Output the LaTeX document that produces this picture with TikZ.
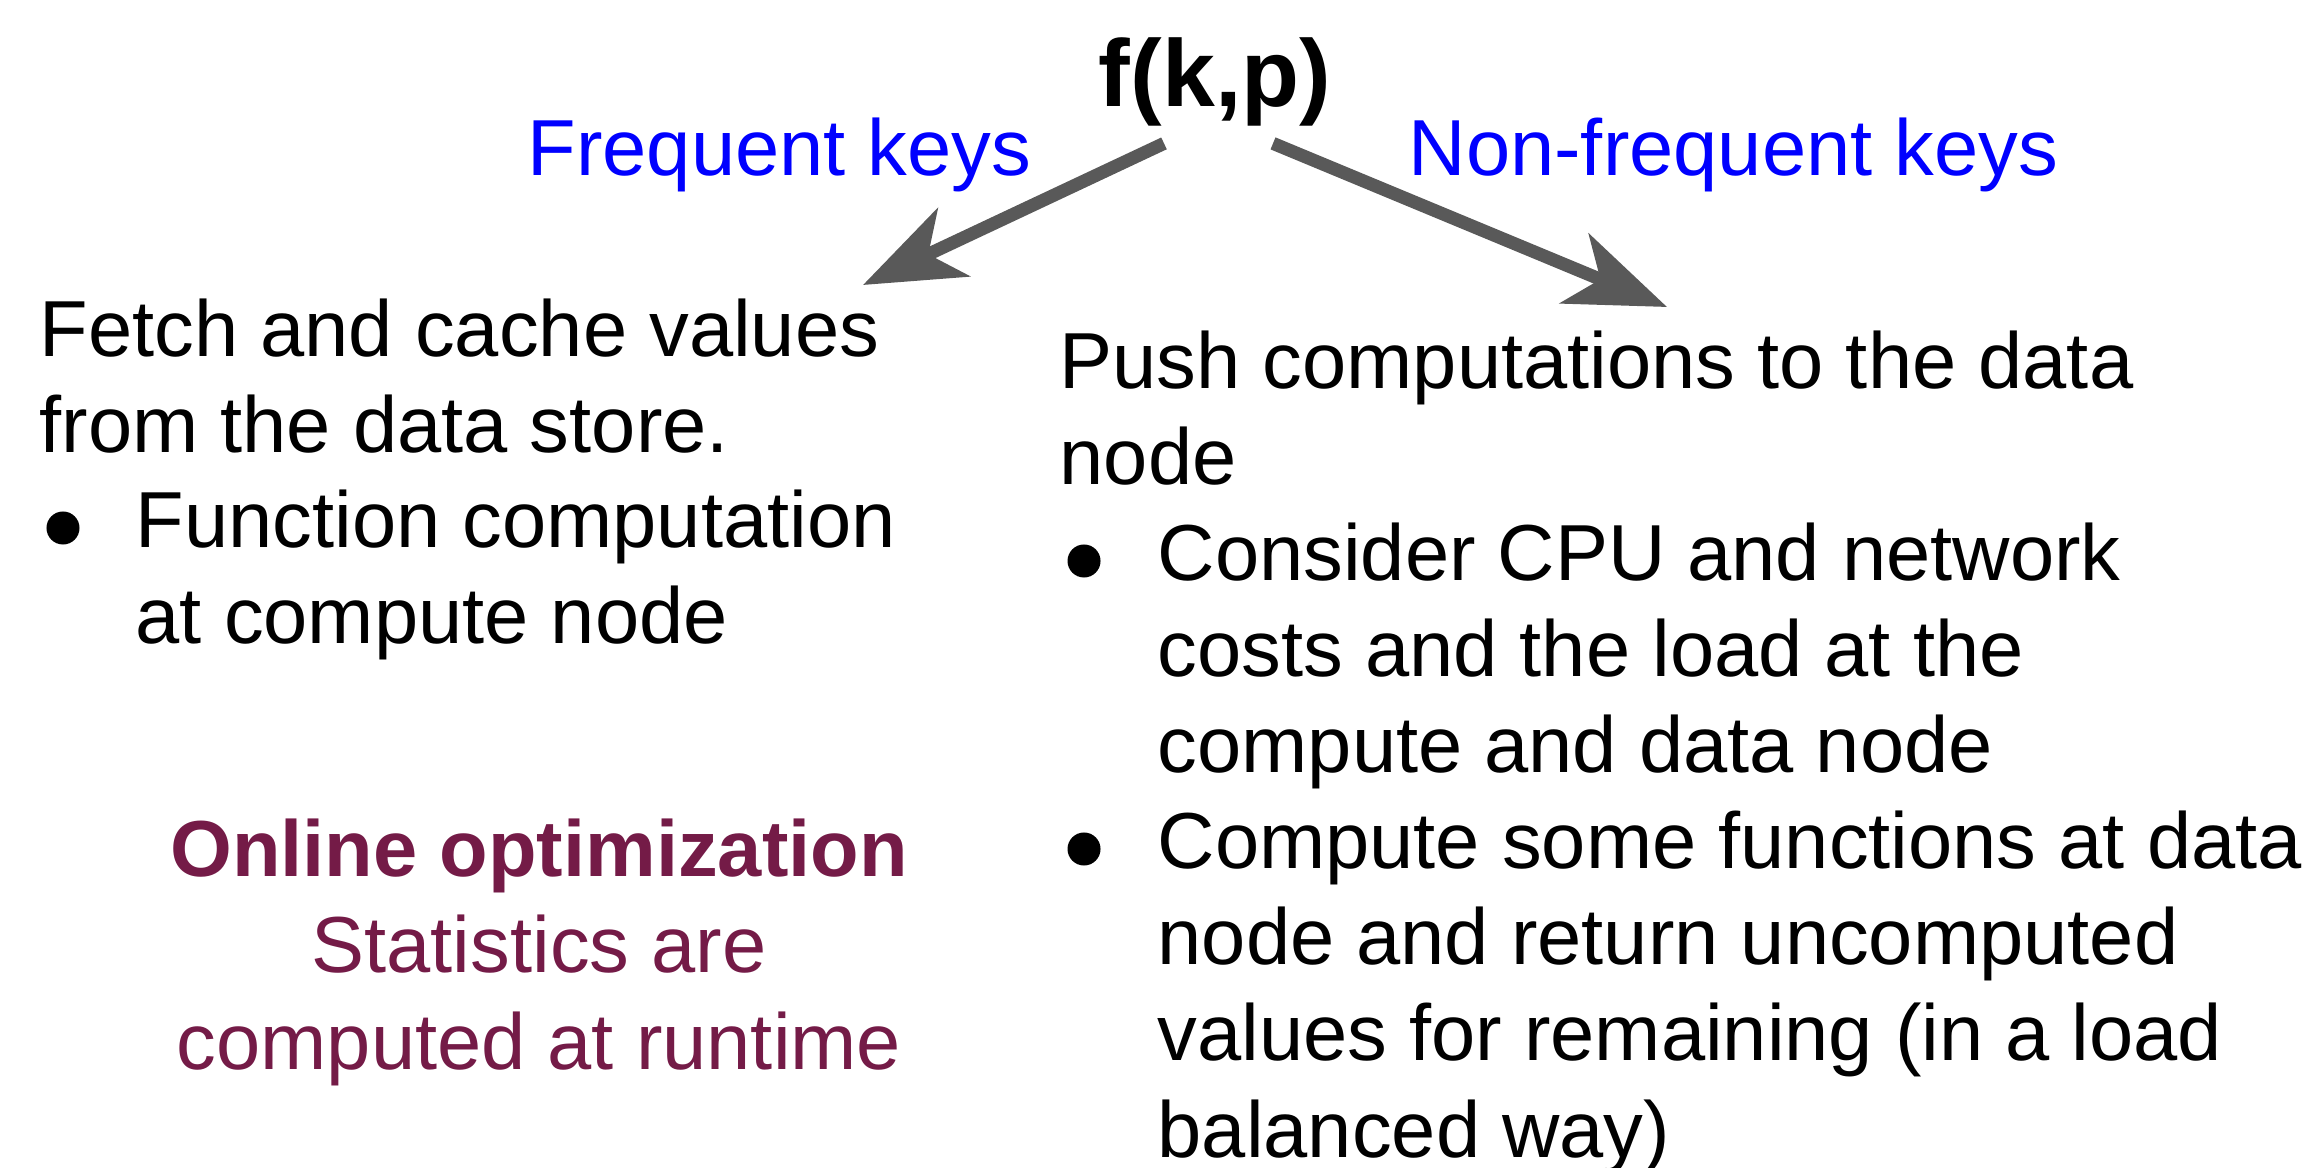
\documentclass[tikz,border=0pt]{standalone}
\usepackage{fontspec}
\setmainfont{Liberation Sans}
\usetikzlibrary{arrows.meta,calc}
\definecolor{KeyBlue}{rgb}{0,0,1}
\definecolor{OptPurple}{HTML}{741B47}
\definecolor{ArrowGray}{HTML}{595959}

\begin{document}
\begin{tikzpicture}[x=0.01cm,y=-0.01cm,
  title/.style={font=\fontsize{27}{32}\selectfont\bfseries,inner sep=0pt,anchor=base},
  keylabel/.style={font=\fontsize{22.6}{27.3}\selectfont,text=KeyBlue,inner sep=0pt,anchor=base west},
  txt/.style={font=\fontsize{22.6}{27.3}\selectfont,inner sep=0pt,align=left,anchor=base west},
  dot/.style={circle,fill=black,inner sep=0pt,minimum size=0.33cm},
  opt/.style={font=\fontsize{22.6}{27.3}\selectfont,text=OptPurple,inner sep=0pt,align=center,anchor=base},
  keyarrow/.style={ArrowGray,line width=0.13cm,-{Stealth[length=1cm,width=0.75cm,inset=0.28cm]}}]
\useasboundingbox (0,0) rectangle (2322,1168);

\node[title] (fkp) at (1215,107) {f(k,p)};
\node[keylabel] (freq) at (527,176) {Frequent keys};
\node[keylabel] (nonfreq) at (1408,176) {Non-frequent keys};

% left branch (base = last line)
\node[txt] (fetch) at (39,453) {Fetch and cache values\\from the data store.};
\node[dot] (fetchdot) at (63,528) {};
\node[txt] (fetchitem) at (135,644) {Function computation\\at compute node};
\node[opt] (online) at (539,1069) {\textbf{Online optimization}\\Statistics are\\computed at runtime};

% right branch
\node[txt] (push) at (1059,485) {Push computations to the data\\node};
\node[dot] (costdot) at (1084,561) {};
\node[txt] (pushcost) at (1157,773) {Consider CPU and network\\costs and the load at the\\compute and data node};
\node[dot] (somedot) at (1084,849) {};
\node[txt] (pushsome) at (1157,1157) {Compute some functions at data\\node and return uncomputed\\values for remaining (in a load\\balanced way)};

\coordinate (freqend) at (863,285);
\coordinate (nonfreqend) at (1667,307);
\draw[keyarrow] ($(fkp.south)+(-51,16)$) -- (freqend);
\draw[keyarrow] ($(fkp.south)+(58,16)$) -- (nonfreqend);

\end{tikzpicture}
\end{document}
